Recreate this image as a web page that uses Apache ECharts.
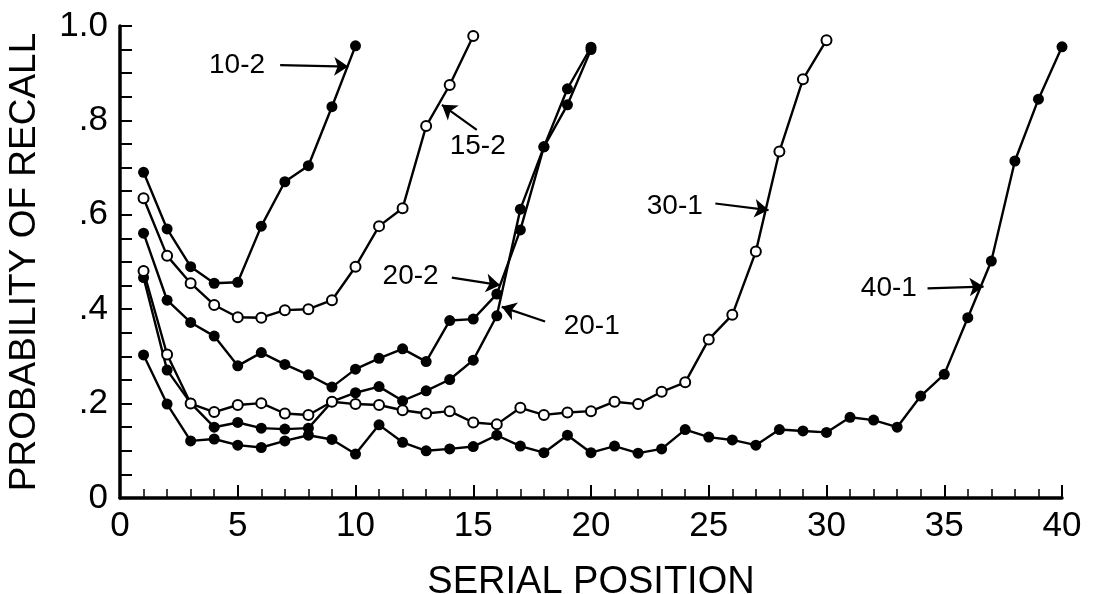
<!DOCTYPE html>
<html>
<head>
<meta charset="utf-8">
<script src="https://cdn.jsdelivr.net/npm/echarts@6/dist/echarts.min.js"></script>
<style>
html,body{margin:0;padding:0;background:#fff;}
#chart{width:1096px;height:594px;}
</style>
</head>
<body>
<div id="chart"></div>
<script>
// Probability of recall by serial position (Murdock, 1962)
var s10_2 = [0.69,0.57,0.49,0.455,0.457,0.576,0.67,0.704,0.829,0.958];
var s15_2 = [0.635,0.513,0.455,0.409,0.383,0.382,0.398,0.400,0.419,0.490,0.576,0.614,0.788,0.875,0.979];
var s20_2 = [0.561,0.419,0.372,0.343,0.280,0.308,0.283,0.261,0.235,0.273,0.296,0.316,0.289,0.376,0.379,0.432,0.568,0.744,0.867,0.955];
var s20_1 = [0.467,0.271,0.201,0.150,0.160,0.148,0.146,0.148,0.204,0.223,0.236,0.206,0.227,0.251,0.292,0.386,0.612,0.744,0.833,0.950];
var s30_1 = [0.481,0.304,0.200,0.182,0.197,0.201,0.179,0.176,0.204,0.199,0.197,0.186,0.179,0.184,0.160,0.156,0.191,0.176,0.181,0.184,0.204,0.199,0.225,0.245,0.336,0.388,0.522,0.734,0.887,0.970];
var s40_1 = [0.303,0.199,0.121,0.125,0.112,0.107,0.121,0.133,0.124,0.093,0.155,0.118,0.100,0.104,0.109,0.133,0.110,0.096,0.133,0.096,0.110,0.095,0.104,0.145,0.129,0.123,0.112,0.145,0.142,0.139,0.171,0.165,0.150,0.216,0.262,0.382,0.502,0.714,0.845,0.956];

var seriesNames = ['10-2','15-2','20-2','20-1','30-1','40-1'];
var seriesValues = [s10_2, s15_2, s20_2, s20_1, s30_1, s40_1];
var seriesOpen = [false, true, false, false, true, false];

// label positions [x, y] in data units and arrows [from, to]
var labelPos = [[4.99,0.915],[15.21,0.744],[12.36,0.468],[20.05,0.362],[23.58,0.617],[32.67,0.443]];
var arrows = [
  [[6.80,0.917],[9.69,0.914]],
  [[15.15,0.780],[13.67,0.833]],
  [[14.09,0.467],[16.14,0.451]],
  [[18.05,0.374],[16.21,0.405]],
  [[25.28,0.624],[27.54,0.610]],
  [[34.29,0.444],[36.67,0.448]]
];
var arrowCurve = [-0.2, 0, -0.05, 0, -0.2, -0.2];

var xTicks = [0,5,10,15,20,25,30,35,40];
var yTicks = ['0','.2','.4','.6','.8','1.0'];

var FONT = 'Liberation Sans';

var series = seriesNames.map(function(name, k){
  return {
    name: name,
    type: 'line',
    z: 3 + k,
    data: seriesValues[k].map(function(v,i){ return [i+1, v]; }),
    symbol: 'circle',
    symbolSize: seriesOpen[k] ? 10 : 11,
    showAllSymbol: true,
    lineStyle: {color:'#000', width:2.4},
    itemStyle: {color: seriesOpen[k] ? '#fff' : '#000', borderColor:'#000', borderWidth: seriesOpen[k] ? 2 : 0},
    emphasis: {disabled:true},
    markLine: {
      silent: true,
      symbol: ['none','arrow'],
      symbolSize: 14,
      label: {show:false},
      emphasis: {disabled:true},
      lineStyle: {color:'#000', width:2.2, type:'solid', curveness: arrowCurve[k], opacity:1},
      itemStyle: {color:'#000'},
      data: [[{coord: arrows[k][0]}, {coord: arrows[k][1]}]]
    }
  };
});

series.push({
  name: 'labels',
  type: 'scatter',
  z: 10,
  symbolSize: 1,
  itemStyle: {color:'rgba(0,0,0,0)'},
  data: labelPos.map(function(p,k){ return {value: p, name: seriesNames[k]}; }),
  label: {
    show: true,
    position: [0, 0],
    align: 'center',
    verticalAlign: 'middle',
    formatter: function(p){ return p.name; },
    color: '#000',
    opacity: 1,
    fontFamily: FONT,
    fontSize: 28
  },
  emphasis: {disabled:true},
  silent: true
});

var chart = echarts.init(document.getElementById('chart'));
chart.setOption({
  animation: false,
  backgroundColor: '#fff',
  grid: {left:120, right:34, top:26, bottom:96, containLabel:false, outerBoundsMode:'none'},
  xAxis: {
    type: 'value', min: 0, max: 40, interval: 5,
    axisLine: {show:true, onZero:false, lineStyle:{color:'#000', width:3.5}},
    axisTick: {show:true, inside:true, length:13, lineStyle:{color:'#000', width:2}},
    minorTick: {show:true, splitNumber:5, length:9, lineStyle:{color:'#000', width:1.5}},
    splitLine: {show:false},
    axisLabel: {color:'#000', fontFamily:FONT, fontSize:35, margin:11,
      formatter: function(v){ return xTicks.indexOf(v) >= 0 ? String(v) : ''; }},
    name: 'SERIAL POSITION', nameLocation: 'middle', nameGap: 66,
    nameTextStyle: {color:'#000', fontFamily:FONT, fontSize:38}
  },
  yAxis: {
    type: 'value', min: 0, max: 1, interval: 0.2,
    axisLine: {show:true, lineStyle:{color:'#000', width:3.5}},
    axisTick: {show:true, inside:true, length:12, lineStyle:{color:'#000', width:2}},
    minorTick: {show:true, splitNumber:4, length:12, lineStyle:{color:'#000', width:2}},
    splitLine: {show:false},
    axisLabel: {color:'#000', fontFamily:FONT, fontSize:35, margin:12,
      formatter: function(v){ return yTicks[Math.round(v*5)]; }},
    name: 'PROBABILITY OF RECALL', nameLocation: 'middle', nameGap: 77,
    nameTextStyle: {color:'#000', fontFamily:FONT, fontSize:37}
  },
  series: series
});
</script>
</body>
</html>
